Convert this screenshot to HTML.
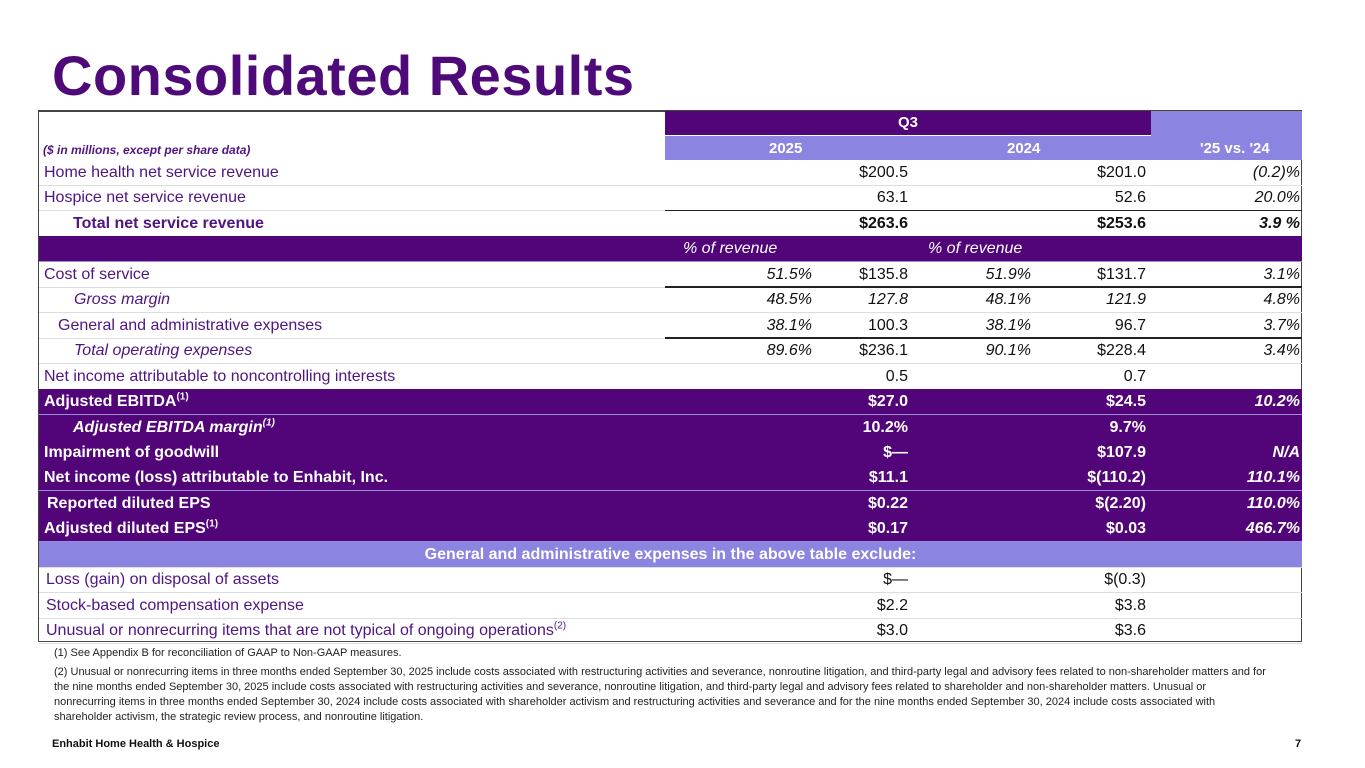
<!DOCTYPE html>
<html><head><meta charset="utf-8"><style>
body{margin:0;width:1365px;height:768px;background:#fff;font-family:"Liberation Sans",Arial,sans-serif;position:relative;overflow:hidden}
.a{position:absolute;white-space:nowrap}
.title{left:52px;top:43px;font-size:56px;font-weight:bold;color:#4f0a7a;letter-spacing:0.5px}
.tbl{left:38px;top:110px;width:1264px;height:532px;border:1px solid #444;border-top:2px solid #444;box-sizing:border-box}
.row{position:absolute;left:39px;width:1263px;height:25px;border-bottom:1px solid #ddd;font-size:16px;color:#4f1580}
.row span{position:absolute;top:4px}
.v{color:#111}
.dk{background:#510578;color:#fff;border-bottom:1px solid #9c8cd8}
.dk .v{color:#fff}
.b{font-weight:bold}.i{font-style:italic}
.r{text-align:right}
sup{font-size:10px;line-height:0}
.fn{font-size:11px;color:#222;line-height:15px}
</style></head><body>
<div class="a title">Consolidated Results</div>
<div class="a tbl"></div>
<div class="a" style="left:665px;top:111px;width:486px;height:24px;background:#510578;color:#fff;font-weight:bold;font-size:15px;text-align:center;line-height:24px">Q3</div>
<div class="a" style="left:1151px;top:111px;width:151px;height:49px;background:#8b84e0"></div>
<div class="a" style="left:665px;top:136px;width:637px;height:24px;background:#8b84e0;color:#fff;font-weight:bold;font-size:15px">
<span class="a" style="left:104px;top:4px">2025</span><span class="a" style="left:342px;top:4px">2024</span><span class="a" style="left:535px;top:4px">'25 vs. '24</span></div>
<div class="a b i" style="left:43px;top:143px;font-size:12px;color:#4f1580">($ in millions, except per share data)</div>
<div id="rows"></div>
<div class="a fn" style="left:54px;top:646px">(1) See Appendix B for reconciliation of GAAP to Non-GAAP measures.</div>
<div class="a fn" style="left:54px;top:665px;white-space:normal;width:1215px">(2) Unusual or nonrecurring items in three months ended September 30, 2025 include costs associated with restructuring activities and severance, nonroutine litigation, and third-party legal and advisory fees related to non-shareholder matters and for the nine months ended September 30, 2025 include costs associated with restructuring activities and severance, nonroutine litigation, and third-party legal and advisory fees related to shareholder and non-shareholder matters. Unusual or nonrecurring items in three months ended September 30, 2024 include costs associated with shareholder activism and restructuring activities and severance and for the nine months ended September 30, 2024 include costs associated with shareholder activism, the strategic review process, and nonroutine litigation.</div>
<div class="a b" style="left:52px;top:738px;font-size:11px;color:#111">Enhabit Home Health &amp; Hospice</div>
<div class="a b" style="left:1295px;top:738px;font-size:11px;color:#111">7</div>
<script>
const labels=["Home health net service revenue","Hospice net service revenue","Total net service revenue","","Cost of service","Gross margin","General and administrative expenses","Total operating expenses","Net income attributable to noncontrolling interests","Adjusted EBITDA<sup>(1)</sup>","Adjusted EBITDA margin<sup>(1)</sup>","Impairment of goodwill","Net income (loss) attributable to Enhabit, Inc.","Reported diluted EPS","Adjusted diluted EPS<sup>(1)</sup>","General and administrative expenses in the above table exclude:","Loss (gain) on disposal of assets","Stock-based compensation expense","Unusual or nonrecurring items that are not typical of ongoing operations<sup>(2)</sup>"];
const pct25=["","","","","51.5%","48.5%","38.1%","89.6%","","","","","","","","","","",""];
const val25=["$200.5","63.1","$263.6","","$135.8","127.8","100.3","$236.1","0.5","$27.0","10.2%","$—","$11.1","$0.22","$0.17","","$—","$2.2","$3.0"];
const pct24=["","","","","51.9%","48.1%","38.1%","90.1%","","","","","","","","","","",""];
const val24=["$201.0","52.6","$253.6","","$131.7","121.9","96.7","$228.4","0.7","$24.5","9.7%","$107.9","$(110.2)","$(2.20)","$0.03","","$(0.3)","$3.8","$3.6"];
const chg=["(0.2)%","20.0%","3.9 %","","3.1%","4.8%","3.7%","3.4%","","10.2%","","N/A","110.1%","110.0%","466.7%","","","",""];
const indent=[5,5,34,5,5,35,19,35,5,5,34,5,5,8,5,5,7,7,7];
const dark=[9,10,11,12,13,14,3];
const boldRows=[2,9,10,11,12,13,14,15];
const italRows=[5,7,10];
const topLine=[2,5,7];
const R=document.getElementById('rows');
labels.forEach((l,i)=>{
 const d=document.createElement('div');
 
 
 let cls='a row';
 if(dark.includes(i))cls+=' dk';
 if(i===15){d.style.background='#8b84e0';d.style.color='#fff';}
 if(boldRows.includes(i))cls+=' b';
 d.className=cls;
 d.style.top=(160+i*25.45)+'px';
 let h='';
 if(i===15){h='<span style="left:0;width:1263px;text-align:center">'+l+'</span>';}
 else if(i===3){h='<span class="i" style="left:644px">% of revenue</span><span class="i" style="left:889px">% of revenue</span>';}
 else{
  h='<span class="'+(italRows.includes(i)?'i':'')+'" style="left:'+indent[i]+'px">'+l+'</span>';
  h+='<span class="v i r" style="right:490px">'+pct25[i]+'</span>';
  h+='<span class="v r'+(i===5?' i':'')+'" style="right:394px">'+val25[i]+'</span>';
  h+='<span class="v i r" style="right:271px">'+pct24[i]+'</span>';
  h+='<span class="v r'+(i===5?' i':'')+'" style="right:156px">'+val24[i]+'</span>';
  h+='<span class="v i r" style="right:2px">'+chg[i]+'</span>';
 }
 d.innerHTML=h;
 if(topLine.includes(i)){const ln=document.createElement('div');ln.style.cssText='position:absolute;left:626px;width:637px;top:-1px;height:1.5px;background:#222';d.appendChild(ln);}
 R.appendChild(d);
});
</script>
</body></html>
